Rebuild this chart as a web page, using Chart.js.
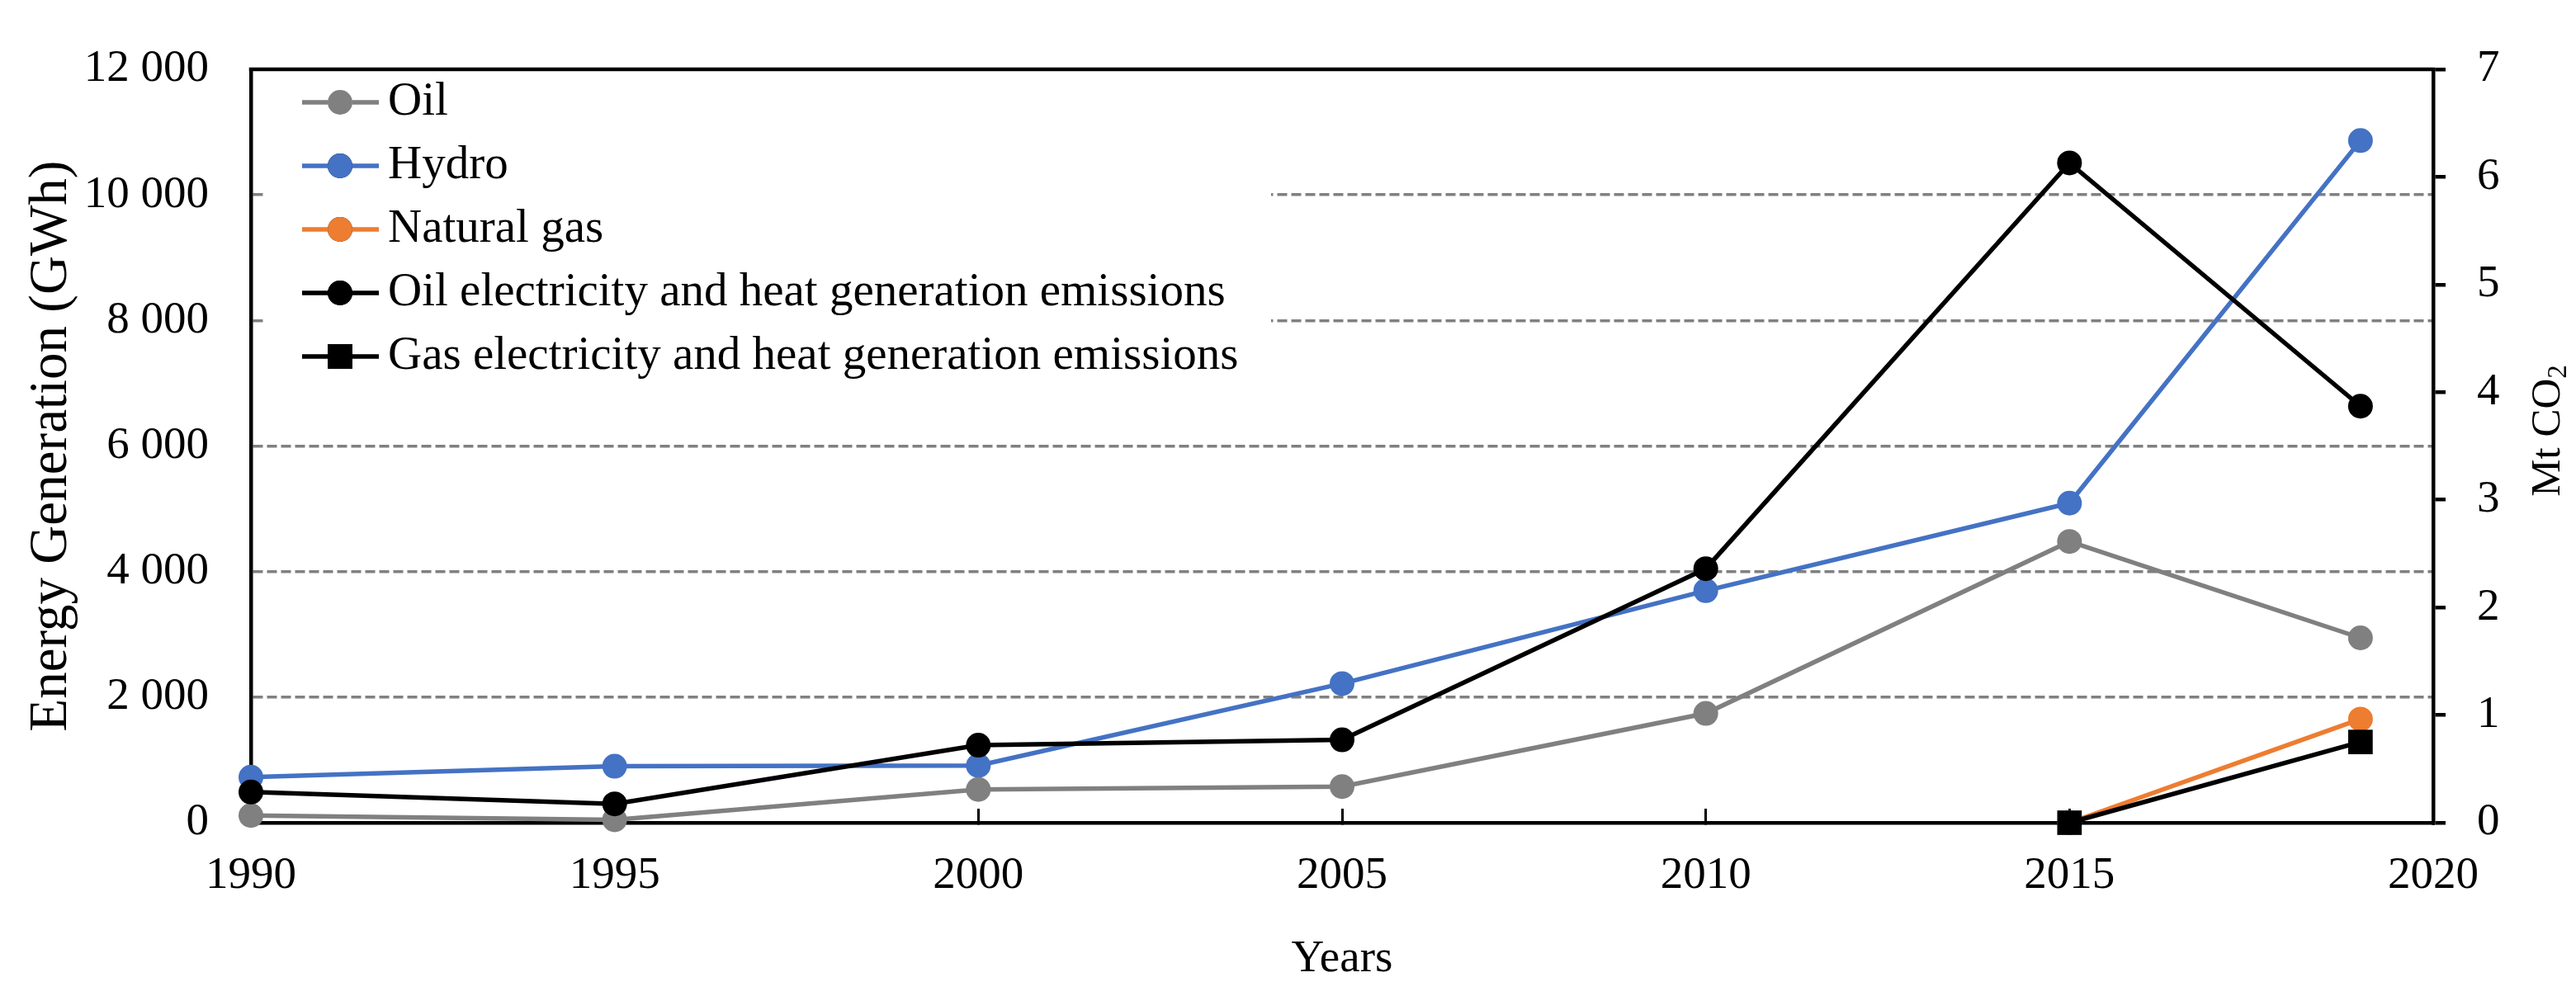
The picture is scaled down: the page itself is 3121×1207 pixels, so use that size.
<!DOCTYPE html>
<html>
<head>
<meta charset="utf-8">
<script src="https://cdn.jsdelivr.net/npm/chart.js@4.4.0/dist/chart.umd.min.js"></script>
<style>
html,body{margin:0;padding:0;background:#ffffff;}
canvas{display:block;}
</style>
</head>
<body>
<canvas id="c" width="3121" height="1207"></canvas>
<script>
// ---- data ----
const years = [1990, 1995, 2000, 2005, 2010, 2015, 2019];
const oilGWh = [115, 47, 530, 576, 1741, 4480, 2944];
const hydroGWh = [725, 900, 910, 2216, 3695, 5090, 10865];
const gasGWh = [null, null, null, null, null, 0, 1650];
const oilEmissions = [0.285, 0.175, 0.72, 0.77, 2.36, 6.13, 3.87];
const gasEmissions = [null, null, null, null, null, 0, 0.75];
const seriesNames = ['Oil', 'Hydro', 'Natural gas',
  'Oil electricity and heat generation emissions',
  'Gas electricity and heat generation emissions'];
const xTicks = [1990, 1995, 2000, 2005, 2010, 2015, 2020];
const leftTicks = [0, 2000, 4000, 6000, 8000, 10000, 12000];
const rightTicks = [0, 1, 2, 3, 4, 5, 6, 7];
const leftTitle = 'Energy Generation (GWh)';
const rightTitleMain = 'Mt CO';
const rightTitleSub = '2';
const xTitle = 'Years';

const FONT = "'Liberation Serif', 'Times New Roman', serif";
const GRAY = '#808080';
const BLUE = '#4472C4';
const ORANGE = '#ED7D31';
const BLACK = '#000000';

function pts(arr) { return years.map((x, i) => ({x: x, y: arr[i]})); }
function fmtThousands(v) { return String(v).replace(/\B(?=(\d{3})+(?!\d))/g, ' '); }

const CANVAS_W = 3121, CANVAS_H = 1207;
const AREA = {left: 304, right: 2948, top: 53, bottom: 997};

const frame = {
  id: 'frame',
  afterDraw(chart) {
    const ctx = chart.ctx, a = chart.chartArea;

    // right axis title, reading bottom to top, with subscript 2
    ctx.save();
    ctx.fillStyle = BLACK;
    ctx.textBaseline = 'alphabetic';
    ctx.textAlign = 'left';
    ctx.font = '51px ' + FONT;
    const wMain = ctx.measureText(rightTitleMain).width;
    ctx.font = '33px ' + FONT;
    const wSub = ctx.measureText(rightTitleSub).width;
    const total = wMain + wSub;
    ctx.translate(3101, 522);
    ctx.rotate(-Math.PI / 2);
    ctx.font = '51px ' + FONT;
    ctx.fillText(rightTitleMain, -total / 2, 0);
    ctx.font = '33px ' + FONT;
    ctx.fillText(rightTitleSub, -total / 2 + wMain, 8);
    ctx.restore();

    // legend
    ctx.save();
    ctx.fillStyle = '#ffffff';
    ctx.fillRect(322, 75, 1218, 390);
    const rowY0 = 124, rowStep = 77;
    chart.data.datasets.forEach((ds, i) => {
      const y = rowY0 + i * rowStep;
      ctx.strokeStyle = ds.borderColor;
      ctx.lineWidth = ds.borderWidth;
      ctx.beginPath();
      ctx.moveTo(366, y);
      ctx.lineTo(459, y);
      ctx.stroke();
      Chart.helpers.drawPoint(ctx, {
        pointStyle: ds.pointStyle,
        radius: ds.pointRadius,
        rotation: 0,
        borderWidth: 0
      }, 412, y);
      ctx.fillStyle = ds.pointBackgroundColor;
      ctx.fill();
      ctx.fillStyle = BLACK;
      ctx.font = '57px ' + FONT;
      ctx.textAlign = 'left';
      ctx.textBaseline = 'middle';
      ctx.fillText(ds.label, 470, y);
    });
    ctx.restore();

    // top frame line
    ctx.save();
    ctx.strokeStyle = BLACK;
    ctx.lineWidth = 4.5;
    ctx.beginPath();
    ctx.moveTo(a.left - 2.25, a.top);
    ctx.lineTo(a.right + 2.25, a.top);
    ctx.stroke();
    ctx.restore();
  }
};

const common = {clip: false, borderWidth: 5.5, pointBorderWidth: 0, spanGaps: false, tension: 0};

new Chart(document.getElementById('c'), {
  type: 'line',
  data: {
    datasets: [
      Object.assign({}, common, {label: seriesNames[0], data: pts(oilGWh), yAxisID: 'y', borderColor: GRAY, backgroundColor: GRAY, pointBackgroundColor: GRAY, pointStyle: 'circle', pointRadius: 15, order: 1}),
      Object.assign({}, common, {label: seriesNames[1], data: pts(hydroGWh), yAxisID: 'y', borderColor: BLUE, backgroundColor: BLUE, pointBackgroundColor: BLUE, pointStyle: 'circle', pointRadius: 15, order: 1}),
      Object.assign({}, common, {label: seriesNames[2], data: pts(gasGWh), yAxisID: 'y', borderColor: ORANGE, backgroundColor: ORANGE, pointBackgroundColor: ORANGE, pointStyle: 'circle', pointRadius: 15, order: 1}),
      Object.assign({}, common, {label: seriesNames[3], data: pts(oilEmissions), yAxisID: 'y1', borderColor: BLACK, backgroundColor: BLACK, pointBackgroundColor: BLACK, pointStyle: 'circle', pointRadius: 15, order: 0}),
      Object.assign({}, common, {label: seriesNames[4], data: pts(gasEmissions), yAxisID: 'y1', borderColor: BLACK, backgroundColor: BLACK, pointBackgroundColor: BLACK, pointStyle: 'rect', pointRadius: 21, order: 0})
    ]
  },
  options: {
    responsive: false,
    maintainAspectRatio: false,
    devicePixelRatio: 1,
    animation: false,
    layout: {padding: {left: 0, right: 0, top: AREA.top, bottom: 0}},
    plugins: {legend: {display: false}, tooltip: {enabled: false}, title: {display: false}},
    scales: {
      x: {
        type: 'linear',
        position: 'bottom',
        min: 1990, max: 2020,
        afterBuildTicks: s => { s.ticks = xTicks.map(v => ({value: v})); },
        afterFit: s => { s.height = CANVAS_H - AREA.bottom; },
        grid: {display: true, drawOnChartArea: false, drawTicks: true, tickLength: -17, color: BLACK, lineWidth: 3},
        border: {display: true, color: BLACK, width: 4.5},
        ticks: {color: BLACK, font: {family: FONT, size: 55}, padding: 49, maxRotation: 0, autoSkip: false,
                callback: v => String(v)},
        title: {display: true, text: xTitle, color: BLACK, font: {family: FONT, size: 55}, padding: {top: 0, bottom: 11}}
      },
      y: {
        type: 'linear',
        position: 'left',
        min: 0, max: 12000,
        afterBuildTicks: s => { s.ticks = leftTicks.map(v => ({value: v})); },
        afterFit: s => { s.width = AREA.left; },
        grid: {
          display: true, drawOnChartArea: true, drawTicks: false, lineWidth: 3.5,
          color: c => (c.tick && c.tick.value > 0 && c.tick.value < 12000) ? GRAY : 'rgba(0,0,0,0)'
        },
        border: {display: true, color: BLACK, width: 4.5, dash: [12, 5]},
        ticks: {color: BLACK, font: {family: FONT, size: 55}, padding: 51, callback: v => fmtThousands(v)},
        title: {display: true, text: leftTitle, color: BLACK, font: {family: FONT, size: 65}, padding: {top: 24, bottom: 0}}
      },
      y1: {
        type: 'linear',
        position: 'right',
        min: 0, max: 7,
        afterBuildTicks: s => { s.ticks = rightTicks.map(v => ({value: v})); },
        afterFit: s => { s.width = CANVAS_W - AREA.right; },
        grid: {display: true, drawOnChartArea: false, drawTicks: true, tickLength: 15, color: BLACK, lineWidth: 4.5},
        border: {display: true, color: BLACK, width: 4.5},
        ticks: {color: BLACK, font: {family: FONT, size: 55}, padding: 38, callback: v => String(v)},
        title: {display: false}
      }
    }
  },
  plugins: [frame]
});
</script>
</body>
</html>
